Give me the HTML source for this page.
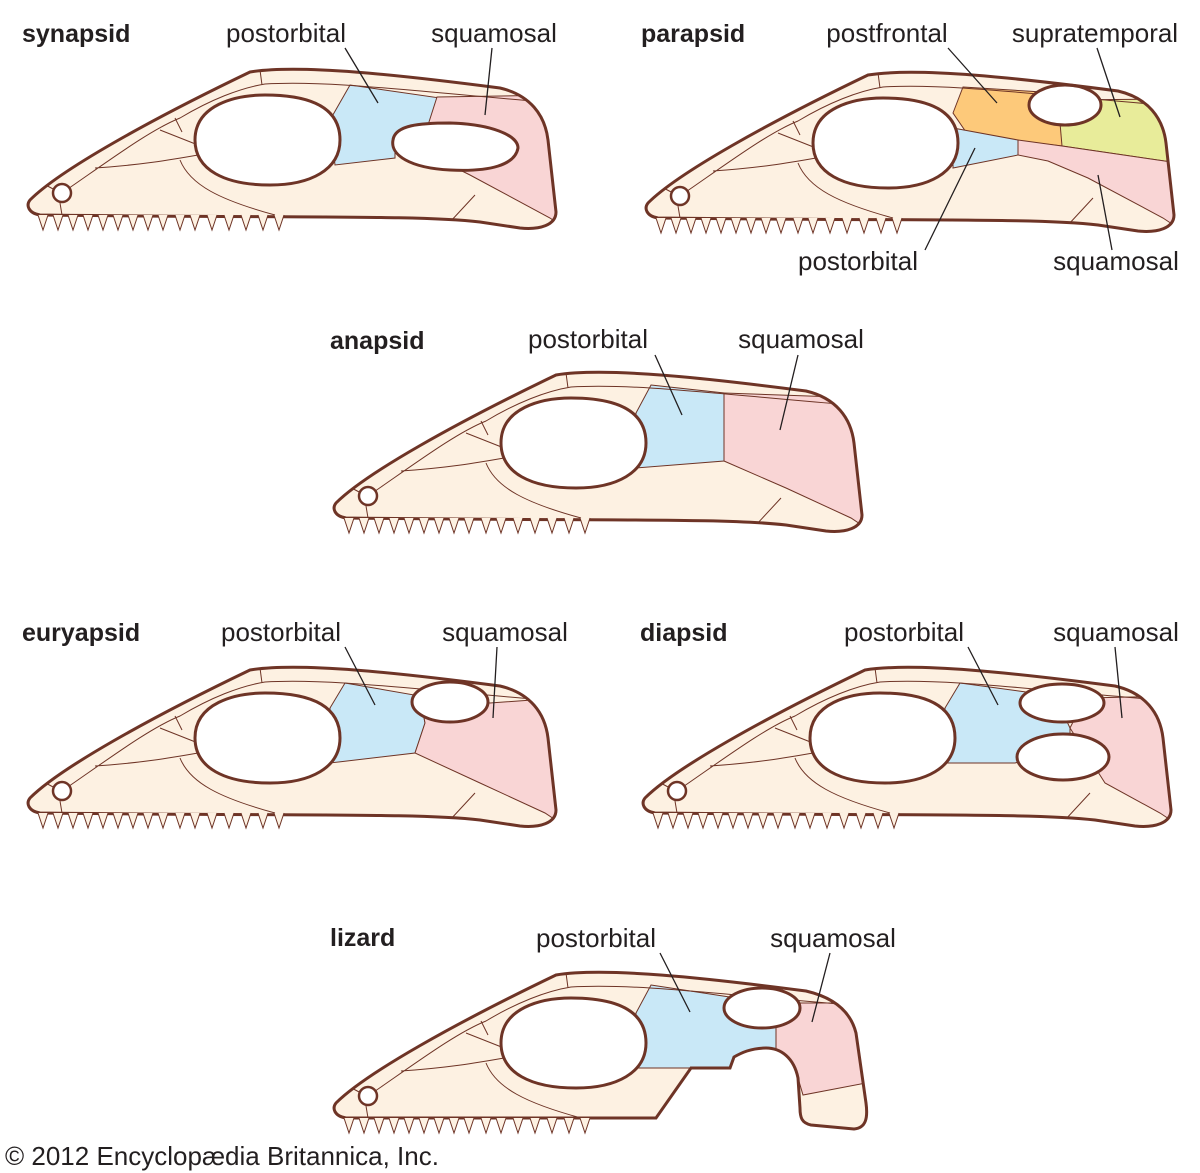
<!DOCTYPE html>
<html><head><meta charset="utf-8"><style>
html,body{margin:0;padding:0;background:#fff;}
svg{display:block;}
text{font-family:"Liberation Sans",sans-serif;font-size:26px;fill:#231f20;}
.b{font-weight:bold;font-size:25px;}
.m{text-anchor:middle;}
.ld{stroke:#231f20;stroke-width:1.3;fill:none;}
</style></head><body>
<svg width="1200" height="1173" viewBox="0 0 1200 1173" xmlns="http://www.w3.org/2000/svg">
<defs>
<path id="sk" d="M30,200 C60,170 150,120 250,72 C300,64 400,75 500,88 C530,95 545,115 548,140 L556,212 C556,225 540,230 520,228 L480,222 C420,215 300,218 40,215 C28,213 26,205 30,200Z"/>
<path id="lz" d="M30,200 C60,170 150,120 250,72 C300,64 400,75 500,88 C530,95 545,110 550,130 L560,200 C562,215 560,225 548,226 L505,222 C496,220 494,215 494,205 L492,175 C488,155 475,145 460,145 C445,145 435,150 428,154 L424,165 L385,165 L350,215 L40,215 C28,213 26,205 30,200Z"/>
<clipPath id="ck"><use href="#sk"/></clipPath>
<clipPath id="cl"><use href="#lz"/></clipPath>
<path id="teeth" d="M38,215l5,15l5,-15M53,215l5,15l5,-15M68,215l5,15l5,-15M83,215l5,15l5,-15M98,215l5,15l5,-15M113,215l5,15l5,-15M128,215l5,15l5,-15M143,215l5,15l5,-15M158,215l5,15l5,-15M175,215l5,15l5,-15M190,215l5,15l5,-15M207,215l5,15l5,-15M224,215l5,15l5,-15M241,215l5,15l5,-15M258,215l5,15l5,-15M274,215l5,15l5,-15" fill="#fdf1e2" stroke="#6e3426" stroke-width="1"/>
<path id="su" fill="none" stroke="#6e3426" stroke-width="1" d="M62,193 C110,160 150,130 180,118 C210,100 240,88 265,84 C330,80 420,92 545,102 M260,70 L262,85 M175,118 L182,132 M160,130 L198,145 M95,168 C140,165 170,160 198,155 M180,160 C190,185 220,200 275,215 M450,222 L475,195 M40,182 L55,190 M60,203 L62,215"/>
<path id="orb" d="M195,140 C195,105 235,95 265,95 C315,95 340,110 340,140 C340,170 310,185 270,185 C225,185 195,170 195,140Z" fill="#fff" stroke="#6e3426" stroke-width="3"/>
<circle id="nos" cx="62" cy="193" r="9" fill="#fff" stroke="#6e3426" stroke-width="2.5"/>
</defs>

<g transform="translate(0,0)">
<use href="#sk" fill="#fdf1e2"/>
<g clip-path="url(#ck)">
<polygon points="350,85 440,98 437,125 395,150 395,158 335,165 330,120" fill="#c9e8f7" stroke="#6e3426" stroke-width="1"/>
<polygon points="437,97 560,95 560,225 550,218 470,175 420,150" fill="#f9d5d5" stroke="#6e3426" stroke-width="1"/>
<use href="#su"/>
</g>
<use href="#orb"/><use href="#nos"/>
<path d="M393,140 C395,125 420,123 450,123 C490,124 518,135 518,148 C515,165 490,172 450,170 C410,168 390,155 393,140Z" fill="#fff" stroke="#6e3426" stroke-width="3"/>
<use href="#sk" fill="none" stroke="#6e3426" stroke-width="3"/>
<use href="#teeth"/>
</g>

<g transform="translate(618,3)">
<use href="#sk" fill="#fdf1e2"/>
<g clip-path="url(#ck)">
<polygon points="345,84 440,90 448,110 444,143 350,132 335,110" fill="#fdc97a" stroke="#6e3426" stroke-width="1"/>
<polygon points="440,97 548,96 560,160 444,143" fill="#e8ec9a" stroke="#6e3426" stroke-width="1"/>
<polygon points="335,125 400,137 400,152 335,165" fill="#c9e8f7" stroke="#6e3426" stroke-width="1"/>
<polygon points="400,137 444,143 560,160 560,225 545,215 470,175 430,158 400,152" fill="#f9d5d5" stroke="#6e3426" stroke-width="1"/>
<use href="#su"/>
</g>
<use href="#orb"/><use href="#nos"/>
<ellipse cx="447" cy="102" rx="36" ry="20" fill="#fff" stroke="#6e3426" stroke-width="3"/>
<use href="#sk" fill="none" stroke="#6e3426" stroke-width="3"/>
<use href="#teeth"/>
</g>

<g transform="translate(306,303)">
<use href="#sk" fill="#fdf1e2"/>
<g clip-path="url(#ck)">
<polygon points="345,82 418,90 418,158 330,165 330,110" fill="#c9e8f7" stroke="#6e3426" stroke-width="1"/>
<polygon points="418,90 560,95 560,225 545,215 480,185 418,158" fill="#f9d5d5" stroke="#6e3426" stroke-width="1"/>
<use href="#su"/>
</g>
<use href="#orb"/><use href="#nos"/>
<use href="#sk" fill="none" stroke="#6e3426" stroke-width="3"/>
<use href="#teeth"/>
</g>

<g transform="translate(0,598)">
<use href="#sk" fill="#fdf1e2"/>
<g clip-path="url(#ck)">
<polygon points="345,85 420,98 425,125 415,155 330,165 330,110" fill="#c9e8f7" stroke="#6e3426" stroke-width="1"/>
<polygon points="490,105 560,100 560,225 545,215 480,185 415,155 425,125 420,98" fill="#f9d5d5" stroke="#6e3426" stroke-width="1"/>
<use href="#su"/>
</g>
<use href="#orb"/><use href="#nos"/>
<ellipse cx="450" cy="104" rx="38" ry="20" fill="#fff" stroke="#6e3426" stroke-width="3"/>
<use href="#sk" fill="none" stroke="#6e3426" stroke-width="3"/>
<use href="#teeth"/>
</g>

<g transform="translate(615,598)">
<use href="#sk" fill="#fdf1e2"/>
<g clip-path="url(#ck)">
<polygon points="345,85 440,98 455,130 455,150 400,165 330,165 330,110" fill="#c9e8f7" stroke="#6e3426" stroke-width="1"/>
<polygon points="470,100 560,98 560,225 545,215 490,185 455,130" fill="#f9d5d5" stroke="#6e3426" stroke-width="1"/>
<use href="#su"/>
</g>
<use href="#orb"/><use href="#nos"/>
<ellipse cx="447" cy="105" rx="42" ry="19" fill="#fff" stroke="#6e3426" stroke-width="3"/>
<ellipse cx="448" cy="159" rx="46" ry="23" fill="#fff" stroke="#6e3426" stroke-width="3"/>
<use href="#sk" fill="none" stroke="#6e3426" stroke-width="3"/>
<use href="#teeth"/>
</g>

<g transform="translate(306,903)">
<use href="#lz" fill="#fdf1e2"/>
<g clip-path="url(#cl)">
<polygon points="345,82 430,95 470,120 470,150 428,154 424,165 385,165 330,165 330,110" fill="#c9e8f7" stroke="#6e3426" stroke-width="1"/>
<polygon points="480,100 560,100 560,180 497,192 492,175 470,150 470,120" fill="#f9d5d5" stroke="#6e3426" stroke-width="1"/>
<use href="#su"/>
</g>
<use href="#orb"/><use href="#nos"/>
<ellipse cx="456" cy="105" rx="38" ry="20" fill="#fff" stroke="#6e3426" stroke-width="3"/>
<use href="#lz" fill="none" stroke="#6e3426" stroke-width="3"/>
<use href="#teeth"/>
</g>

<text x="22" y="42" class="b">synapsid</text>
<text x="286" y="42" class="m">postorbital</text>
<text x="494" y="42" class="m">squamosal</text>
<path class="ld" d="M345,48 L378,103 M492,48 L485,115"/>

<text x="641" y="42" class="b">parapsid</text>
<text x="887" y="42" class="m">postfrontal</text>
<text x="1095" y="42" class="m">supratemporal</text>
<text x="858" y="270" class="m">postorbital</text>
<text x="1116" y="270" class="m">squamosal</text>
<path class="ld" d="M948,48 L997,103 M1097,48 L1120,117 M925,250 L975,148 M1112,250 L1098,175"/>

<text x="330" y="349" class="b">anapsid</text>
<text x="588" y="348" class="m">postorbital</text>
<text x="801" y="348" class="m">squamosal</text>
<path class="ld" d="M655,355 L682,415 M798,355 L780,430"/>

<text x="22" y="641" class="b">euryapsid</text>
<text x="281" y="641" class="m">postorbital</text>
<text x="505" y="641" class="m">squamosal</text>
<path class="ld" d="M345,647 L375,705 M497,647 L493,718"/>

<text x="640" y="641" class="b">diapsid</text>
<text x="904" y="641" class="m">postorbital</text>
<text x="1116" y="641" class="m">squamosal</text>
<path class="ld" d="M968,647 L998,705 M1115,647 L1122,718"/>

<text x="330" y="946" class="b">lizard</text>
<text x="596" y="947" class="m">postorbital</text>
<text x="833" y="947" class="m">squamosal</text>
<path class="ld" d="M660,953 L690,1012 M830,953 L812,1022"/>

<text x="5" y="1165">© 2012 Encyclopædia Britannica, Inc.</text>
</svg>
</body></html>
